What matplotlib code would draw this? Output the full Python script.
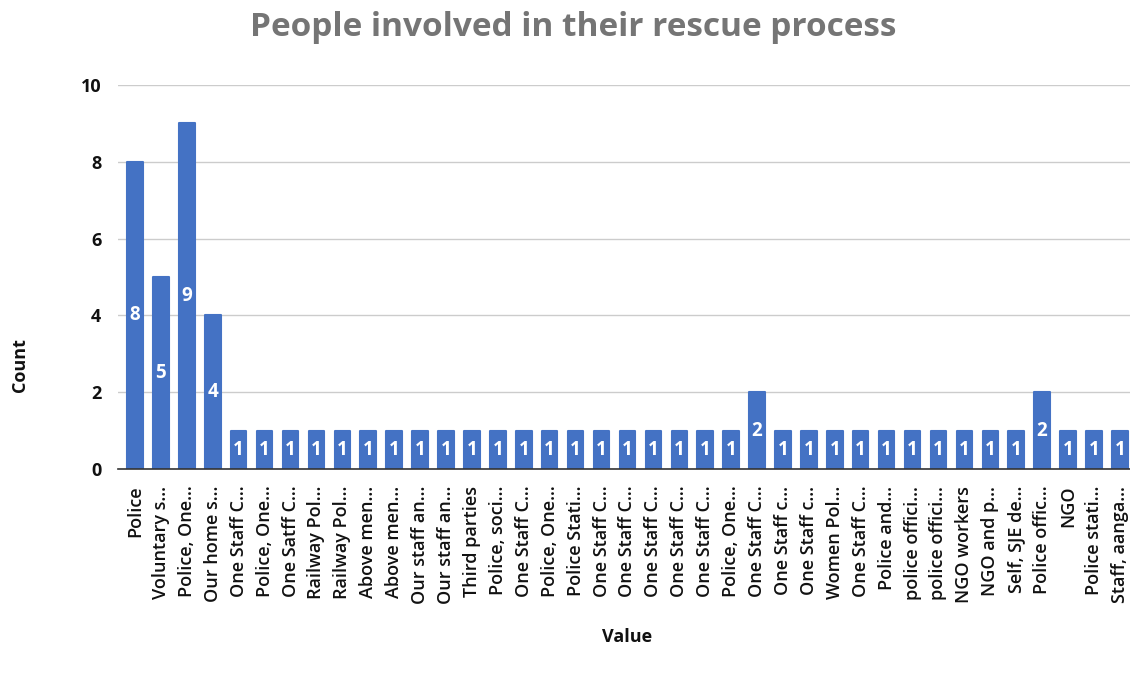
import matplotlib
matplotlib.use("Agg")
import matplotlib.pyplot as plt

categories = [
    "Police", "Voluntary s...", "Police, One...", "Our home s...", "One Staff C...",
    "Police, One...", "One Satff C...", "Railway Pol...", "Railway Pol...", "Above men...",
    "Above men...", "Our staff an...", "Our staff an...", "Third parties", "Police, soci...",
    "One Staff C...", "Police, One...", "Police Stati...", "One Staff C...", "One Staff C...",
    "One Staff C...", "One Staff C...", "One Staff C...", "Police, One...", "One Staff C...",
    "One Staff c...", "One Staff c...", "Women Pol...", "One Staff C...", "Police and...",
    "police offici...", "police offici...", "NGO workers", "NGO and p...", "Self, SJE de...",
    "Police offic...", "NGO", "Police stati...", "Staff, aanga...",
]
counts = [8, 5, 9, 4, 1, 1, 1, 1, 1, 1, 1, 1, 1, 1, 1, 1, 1, 1, 1, 1, 1, 1, 1, 1, 2,
          1, 1, 1, 1, 1, 1, 1, 1, 1, 1, 2, 1, 1, 1]
yticks = [0, 2, 4, 6, 8, 10]

plt.rcParams['font.family'] = ['Open Sans', 'DejaVu Sans']

fig = plt.figure(figsize=(11.3, 6.77), dpi=100)
ax = fig.add_axes([118/1130, 1-469/677, 1012/1130, 384/677])

x = list(range(len(categories)))
ax.bar(x, counts, width=0.6, color="#4472C4", edgecolor="#4472C4",
       linewidth=1.5, joinstyle="round", zorder=3)
for xi, v in zip(x, counts):
    ax.text(xi, v/2, str(v), ha="center", va="center", color="white",
            fontsize=13.5, fontweight="bold", zorder=4)

ax.set_xlim(-0.656, 38.39)
ax.set_ylim(0, 10)
ax.set_yticks(yticks)
ax.set_yticklabels([str(t) for t in yticks], fontsize=13, fontweight="bold", color="#111111")
ax.set_xticks(x)
ax.set_xticklabels(categories, rotation=90, fontsize=13, fontweight="semibold", color="#111111")
ax.tick_params(axis="y", length=0, pad=12)
ax.tick_params(axis="x", length=0, pad=12)
ax.grid(axis="y", color="#cccccc", linewidth=1, zorder=0)
for s in ["top", "right", "left"]:
    ax.spines[s].set_visible(False)
ax.spines["bottom"].set_color("#333333")
ax.spines["bottom"].set_linewidth(1.2)
ax.spines["bottom"].set_zorder(5)

fig.text(573/1130, 1-28/677, "People involved in their rescue process", ha="center", va="center",
         fontsize=24, fontweight="bold", color="#757575")
fig.text(20/1130, 1-365/677, "Count", ha="center", va="center", rotation=90,
         fontsize=13, fontweight="bold", color="#111111")
fig.text(627/1130, 1-637/677, "Value", ha="center", va="center",
         fontsize=13, fontweight="bold", color="#111111")

fig.savefig("out.png", dpi=100)
